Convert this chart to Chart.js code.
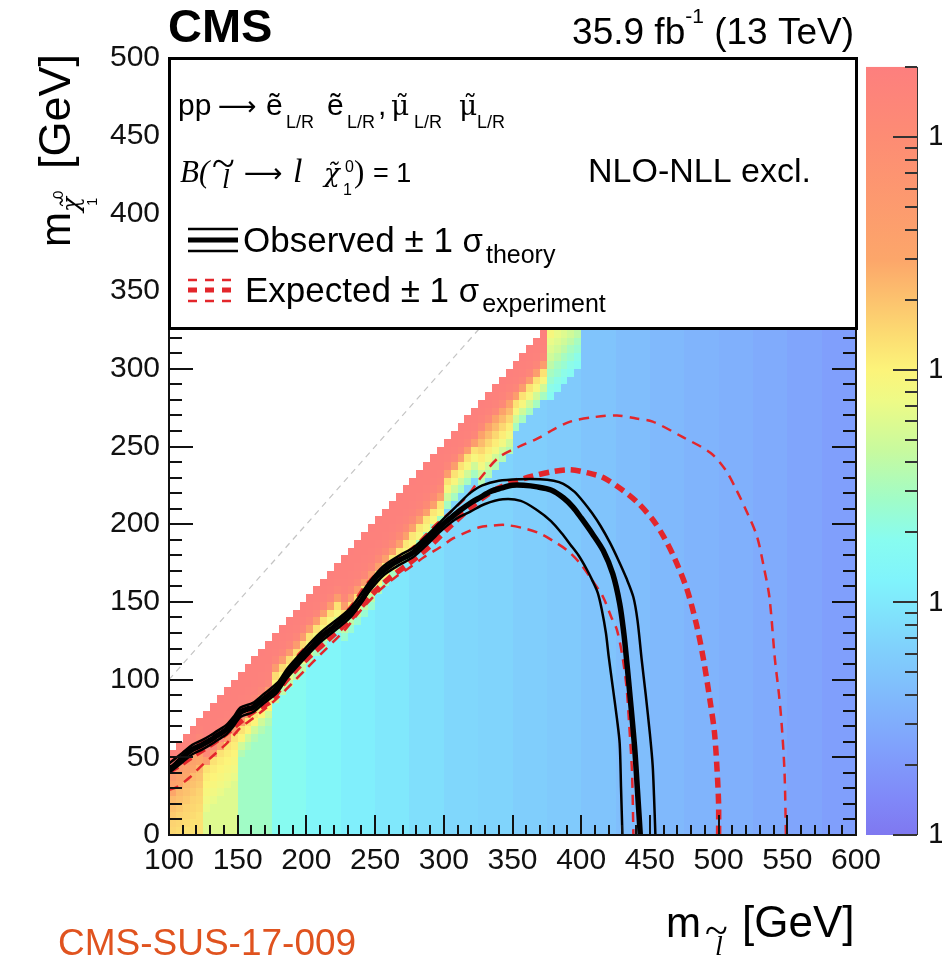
<!DOCTYPE html>
<html>
<head>
<meta charset="utf-8">
<script src="https://cdn.jsdelivr.net/npm/chart.js@4.4.1/dist/chart.umd.min.js"></script>
<style>
  html, body { margin: 0; padding: 0; background: #fff; overflow: hidden; }
  canvas { display: block; }
</style>
</head>
<body>
<canvas id="limitChart" width="942" height="957"></canvas>
<script>
// ======================
// DATA (GeV / pb)
// ======================

// heat map: 25 GeV columns of m(slepton), value = 95% CL upper limit on sigma [pb]
const colStart = [100,125,150,175,200,225,250,275,300,325,350,375,400,425,450,475,500,525,550,575];
const colBaseLimit = [0.13,0.06,0.028,0.018,0.0138,0.0114,0.0099,0.0084,0.0072,0.0067,0.006,0.0055,0.0049,0.0043,0.0039,0.0035,0.0032,0.0029,0.0026,0.0023];

// cells near the diagonal, 5 GeV rows going down from the grid edge
const diagBands = [
  [1.8,1.6,1.3,0.5,0.35,0.3,0.22,0.2,0.18,0.16,0.15,0.14,0.13],
  [1.9,1.8,1.8,1.7,1.5,1.2,0.45,0.13,0.11,0.1,0.09,0.08,0.07],
  [1.9,1.8,1.8,1.7,1.6,1.3,0.45,0.13,0.1,0.05,0.035],
  [1.9,1.8,1.7,1.4,0.5,0.14,0.1,0.07,0.04],
  [1.9,1.8,1.7,1.4,0.45,0.13,0.09,0.05,0.03],
  [1.9,1.8,1.8,1.7,1.6,1.3,0.45,0.13,0.09,0.04,0.025],
  [1.9,1.8,1.8,1.7,1.5,1.1,0.4,0.12,0.09,0.03],
  [1.9,1.8,1.8,1.7,1.5,1.1,0.4,0.12,0.09,0.03],
  [1.9,1.8,1.7,1.4,0.45,0.13,0.09,0.05,0.03],
  [1.9,1.8,1.6,1.2,0.35,0.22,0.15,0.11,0.08,0.05,0.035],
  [1.9,1.8,1.7,1.4,0.45,0.13,0.09,0.05,0.03],
  [0.15,0.09,0.07,0.06,0.05,0.04,0.03,0.025,0.02,0.018]
];

const CELL = 5;      // GeV, grid cell
const DM_MIN = 45;   // grid ends at m(slepton) - m(chi) = 45 GeV

// exclusion contours [m(slepton), m(chi)]
const obsCentral = [[100,43],[103,44],[110,50],[117,55],[124,58],[130,61],[137,65],[142,68],[147,73],[152,79],[157,81],[161,82],[168,87],[174,91],[179,95],[186,104],[192,110],[197,115],[204,121],[210,127],[220,134],[232,143],[240,151],[246,160],[251,166],[256,170],[262,174],[268,177],[278,182],[288,190],[297,198],[305,204],[312,209],[320,214],[326,217],[334,221],[341,223],[350,225],[358,225],[368,224],[378,222],[387,217],[394,211],[400,204],[408,194],[416,183],[423,168],[428,149],[431,130],[433,113],[436,85],[439,55],[441,28],[443,0]];
const obsUp = [[100,46],[110,53],[117,58],[124,61],[130,64],[137,68],[142,71],[147,76],[152,82],[161,85],[168,90],[179,98],[186,107],[197,118],[210,130],[232,146],[246,163],[256,173],[268,180],[278,185],[288,193],[297,201],[305,208],[312,214],[319,220],[328,225],[340,228],[355,229],[370,229],[380,228],[387,226],[395,221],[402,214],[408,207],[414,199],[421,188],[427,177],[433,165],[438,153],[441,138],[444,113],[447,90],[450,65],[452,45],[453,25],[454,0]];
const obsDown = [[100,40],[110,47],[117,52],[124,55],[130,58],[137,62],[142,65],[147,70],[152,76],[161,79],[168,84],[179,92],[186,101],[197,112],[210,124],[232,140],[246,157],[256,167],[268,174],[278,179],[288,187],[297,195],[305,201],[312,205],[319,208],[330,213],[343,216],[356,215],[368,209],[378,202],[386,194],[392,187],[398,180],[404,171],[408,164],[412,156],[415,145],[418,130],[420,115],[423,95],[426,75],[428,59],[429,30],[430,0]];
const expCentral = [[100,41],[108,45],[116,50],[125,55],[135,61],[144,67],[152,73],[159,78],[166,82],[174,86],[183,97],[192,106],[200,113],[215,125],[232,139],[248,155],[260,165],[275,175],[290,186],[305,199],[320,211],[335,221],[350,227],[365,231],[380,234],[392,235],[405,233],[416,230],[430,222],[441,214],[452,203],[460,192],[468,178],[477,158],[484,135],[489,113],[494,85],[497,66],[499,40],[500,20],[500,0]];
const expUp = [[100,46],[110,53],[118,57],[130,63],[143,70],[152,80],[162,85],[169,90],[180,98],[187,107],[195,117],[205,125],[219,134],[232,147],[244,162],[256,172],[268,179],[280,187],[292,198],[305,208],[317,218],[327,230],[340,243],[355,250],[368,255],[380,261],[392,266],[410,269],[426,270],[440,268],[452,266],[474,256],[494,246],[505,235],[513,222],[521,207],[528,192],[533,172],[537,153],[541,113],[544,90],[546,70],[548,40],[549,0]];
const expDown = [[100,29],[106,31],[115,37],[123,44],[132,51],[142,59],[152,69],[161,75],[171,82],[180,89],[190,98],[200,107],[210,116],[227,131],[240,145],[254,158],[265,166],[275,172],[286,179],[297,185],[307,191],[317,195],[326,198],[334,199],[345,199.5],[360,197],[370,194],[380,189],[390,183],[399,175],[408,164],[416,153],[422,140],[426,132],[430,115],[433,95],[435,70],[437,40],[438,0]];
const diagonal = [[100,100],[500,500]];

// axes
const X_MIN = 100, X_MAX = 600, Y_MIN = 0, Y_MAX = 500, TICK_STEP = 50;
const Z_MIN = 0.001, Z_TOP = 2, Z_MAX = 2.185;
const zLabels = { '1': '1', '0.1': '10\u207B\u00B9', '0.01': '10\u207B\u00B2', '0.001': '10\u207B\u00B3' };

// ======================
// STYLE
// ======================

const SANS = '"Liberation Sans", Arial, Helvetica, sans-serif';
const SERIF = '"Liberation Serif", "Times New Roman", serif';
const GREEK = '"DejaVu Serif", serif';
const ARROW = '"DejaVu Sans", sans-serif';
const RED = '#e3262b';

const paletteStops = [
  [0, '#7f78f0'], [0.046, '#8088f8'], [0.111, '#80a0fc'], [0.176, '#80b8fc'],
  [0.241, '#80d0fc'], [0.302, '#80e8fc'], [0.332, '#80f4fc'], [0.384, '#88fcf0'],
  [0.436, '#a0fcc8'], [0.501, '#c8fa9e'], [0.566, '#eefa86'], [0.605, '#fcf47a'],
  [0.651, '#fcdc72'], [0.697, '#fcc26e'], [0.749, '#fca66a'], [0.909, '#fd8c74'],
  [1, '#fd7f7e']
];

// ======================
// HELPERS
// ======================

function hexRgb(h) {
  return [parseInt(h.slice(1, 3), 16), parseInt(h.slice(3, 5), 16), parseInt(h.slice(5, 7), 16)];
}

function paletteAt(f) {
  f = Math.max(0, Math.min(1, f));
  for (let i = 1; i < paletteStops.length; i++) {
    const [t1, c1] = paletteStops[i];
    if (f <= t1) {
      const [t0, c0] = paletteStops[i - 1];
      const u = (f - t0) / (t1 - t0);
      const a = hexRgb(c0), b = hexRgb(c1);
      return 'rgb(' + a.map((v, k) => Math.round(v + (b[k] - v) * u)).join(',') + ')';
    }
  }
  return paletteStops[paletteStops.length - 1][1];
}

function text(ctx, t, x, y, font, align) {
  ctx.font = font;
  ctx.textAlign = align || 'left';
  ctx.fillText(t, x, y);
  return x + ctx.measureText(t).width;
}

// italic l with a wide tilde on top (slepton)
function tildeL(ctx, x, base, size) {
  text(ctx, '~', x, base - size * 0.38, `${Math.round(size * 1.5)}px ${SERIF}`);
  text(ctx, 'l', x + size * 0.36, base, `italic ${size}px ${SERIF}`);
}

function line(ctx, x0, y0, x1, y1) {
  ctx.beginPath();
  ctx.moveTo(x0, y0);
  ctx.lineTo(x1, y1);
  ctx.stroke();
}

const pts = arr => arr.map(([x, y]) => ({ x, y }));

// ======================
// PLUGINS
// ======================

const heatmapPlugin = {
  id: 'heatmap',
  beforeDatasetsDraw(chart) {
    const { ctx, chartArea: a, scales: { x, y, z } } = chart;
    const zb = z.getPixelForValue(Z_MIN), zt = z.getPixelForValue(Z_TOP);
    const colour = v => paletteAt((zb - z.getPixelForValue(v)) / (zb - zt));
    ctx.save();
    ctx.beginPath();
    ctx.rect(a.left, a.top, a.width, a.height);
    ctx.clip();
    colStart.forEach((c0, c) => {
      const band = diagBands[c] || [];
      for (let X = c0; X < c0 + 25; X += CELL) {
        const top = Math.min(X - DM_MIN, Y_MAX);
        const px0 = Math.round(x.getPixelForValue(X));
        const px1 = Math.round(x.getPixelForValue(X + CELL));
        for (let yl = 0; yl + CELL <= top; yl += CELL) {
          const k = (top - yl) / CELL - 1;
          const v = k < band.length ? band[k] : colBaseLimit[c];
          const py0 = Math.round(y.getPixelForValue(yl + CELL));
          const py1 = Math.round(y.getPixelForValue(yl));
          ctx.fillStyle = colour(v);
          ctx.fillRect(px0, py0, px1 - px0, py1 - py0);
        }
      }
    });
    ctx.restore();
  }
};

const framePlugin = {
  id: 'frame',
  afterDatasetsDraw(chart) {
    const { ctx, chartArea: a, scales: { x, y } } = chart;
    ctx.save();
    ctx.strokeStyle = '#111';
    ctx.lineWidth = 2;
    for (let v = X_MIN; v <= X_MAX; v += 10) {
      const px = Math.round(x.getPixelForValue(v));
      line(ctx, px, a.bottom, px, a.bottom - (v % TICK_STEP === 0 ? 20 : 10));
    }
    for (let v = Y_MIN; v <= Y_MAX; v += 10) {
      const py = Math.round(y.getPixelForValue(v));
      const len = v % TICK_STEP === 0 ? 24 : 13;
      line(ctx, a.left, py, a.left + len, py);
      line(ctx, a.right, py, a.right - len, py);
    }
    line(ctx, a.left, a.top, a.left, a.bottom + 1);
    line(ctx, a.left - 1, a.bottom, a.right + 1, a.bottom);
    line(ctx, a.right, a.top, a.right, a.bottom + 1);

    // legend box
    const boxBottom = a.top + 270;
    ctx.fillStyle = '#fff';
    ctx.fillRect(a.left, a.top, a.width, boxBottom - a.top);
    ctx.lineWidth = 3;
    ctx.strokeStyle = '#000';
    ctx.strokeRect(a.left + 0.5, a.top + 0.5, a.width, boxBottom - a.top);

    ctx.fillStyle = '#000';
    ctx.textBaseline = 'alphabetic';
    // process line
    text(ctx, 'pp', 178, 115, `30px ${SANS}`);
    text(ctx, '\u27F6', 218, 115, `27px ${ARROW}`);
    text(ctx, '\u1EBD', 266, 115, `30px ${SANS}`);
    text(ctx, 'L/R', 286, 128, `18px ${SANS}`);
    text(ctx, '\u1EBD', 327, 115, `30px ${SANS}`);
    text(ctx, 'L/R', 347, 128, `18px ${SANS}`);
    text(ctx, ',', 378, 115, `30px ${SANS}`);
    text(ctx, '\u03BC\u0303', 391, 115, `28px ${GREEK}`);
    text(ctx, 'L/R', 414, 128, `18px ${SANS}`);
    text(ctx, '\u03BC\u0303', 459, 115, `28px ${GREEK}`);
    text(ctx, 'L/R', 477, 128, `18px ${SANS}`);
    // branching fraction
    text(ctx, 'B(', 180, 182, `italic 31px ${SERIF}`);
    tildeL(ctx, 212, 188, 28);
    text(ctx, '\u27F6', 244, 182, `27px ${ARROW}`);
    text(ctx, 'l', 293, 182, `italic 34px ${SERIF}`);
    text(ctx, '\u03C7\u0303', 324, 182, `italic 26px ${GREEK}`);
    text(ctx, '0', 345, 172, `16px ${SANS}`);
    text(ctx, '1', 343, 195, `16px ${SANS}`);
    text(ctx, ')', 354, 182, `31px ${SERIF}`);
    text(ctx, '= 1', 373, 182, `27px ${SANS}`);
    text(ctx, 'NLO-NLL excl.', 588, 182, `34px ${SANS}`);

    // legend entries
    ctx.strokeStyle = '#000';
    ctx.setLineDash([]);
    ctx.lineWidth = 2.5; line(ctx, 188, 229, 238, 229); line(ctx, 188, 251, 238, 251);
    ctx.lineWidth = 5; line(ctx, 188, 240, 238, 240);
    let ex = text(ctx, 'Observed \u00B1 1 ', 243, 252, `35px ${SANS}`);
    ex = text(ctx, '\u03C3', ex, 252, `33px ${SANS}`);
    text(ctx, 'theory', ex + 3, 263, `25px ${SANS}`);

    ctx.strokeStyle = RED;
    ctx.setLineDash([9, 8]);
    ctx.lineWidth = 2.5; line(ctx, 188, 280, 238, 280); line(ctx, 188, 301, 238, 301);
    ctx.lineWidth = 5; line(ctx, 188, 290, 238, 290);
    ctx.setLineDash([]);
    ex = text(ctx, 'Expected \u00B1 1 ', 245, 302, `35px ${SANS}`);
    ex = text(ctx, '\u03C3', ex, 302, `33px ${SANS}`);
    text(ctx, 'experiment', ex + 3, 312, `25px ${SANS}`);
    ctx.restore();
  },
  afterDraw(chart) {
    const { ctx, scales: { z } } = chart;
    ctx.save();
    // colour bar
    const cbL = z.left + 10, cbR = z.left + 61;
    const zb = z.getPixelForValue(Z_MIN), zt = z.getPixelForValue(Z_TOP);
    const g = ctx.createLinearGradient(0, zb, 0, zt);
    paletteStops.forEach(([t, c]) => g.addColorStop(t, c));
    ctx.fillStyle = g;
    ctx.fillRect(cbL, zt, cbR - cbL, zb - zt);
    ctx.strokeStyle = '#333';
    ctx.lineWidth = 1;
    line(ctx, cbR + 0.5, zt, cbR + 0.5, zb);
    ctx.lineWidth = 2;
    z.ticks.forEach(tk => {
      const v = tk.value;
      if (v > Z_TOP + 1e-9) return;
      const e = Math.floor(Math.log10(v) + 1e-9);
      const m = v / Math.pow(10, e);
      if (Math.abs(m - Math.round(m)) > 1e-6) return;
      const py = Math.round(z.getPixelForValue(v));
      line(ctx, cbR - (Math.round(m) === 1 ? 24 : 12), py, cbR, py);
    });

    // header
    ctx.fillStyle = '#000';
    text(ctx, 'CMS', 168, 42, `bold 47px ${SANS}`);
    ctx.font = `37px ${SANS}`;
    const w1 = ctx.measureText('35.9 fb').width;
    const w3 = ctx.measureText(' (13 TeV)').width;
    ctx.font = `21px ${SANS}`;
    const w2 = ctx.measureText('-1').width;
    let hx = 854 - w1 - w2 - w3;
    hx = text(ctx, '35.9 fb', hx, 44, `37px ${SANS}`);
    hx = text(ctx, '-1', hx, 23, `21px ${SANS}`);
    text(ctx, ' (13 TeV)', hx, 44, `37px ${SANS}`);

    // y title
    ctx.save();
    ctx.translate(70, 247);
    ctx.rotate(-Math.PI / 2);
    text(ctx, 'm', 0, 0, `42px ${SANS}`);
    text(ctx, '\u03C7\u0303', 35, 9, `italic 25px ${GREEK}`);
    text(ctx, '0', 48, -7, `15px ${SANS}`);
    text(ctx, '1', 41, 27, `15px ${SANS}`);
    text(ctx, '[GeV]', 78, 0, `45px ${SANS}`);
    ctx.restore();

    // x title
    text(ctx, 'm', 666, 937, `42px ${SANS}`);
    tildeL(ctx, 705, 955, 28);
    text(ctx, '[GeV]', 742, 937, `44px ${SANS}`);

    ctx.fillStyle = '#e0531f';
    text(ctx, 'CMS-SUS-17-009', 58, 955, `37px ${SANS}`);
    ctx.restore();
  }
};

// ======================
// CHART
// ======================

const lineDefaults = { showLine: true, pointRadius: 0, tension: 0.3, fill: false };

new Chart(document.getElementById('limitChart'), {
  type: 'scatter',
  data: {
    datasets: [
      { ...lineDefaults, label: 'Observed', data: pts(obsCentral), borderColor: '#000', borderWidth: 5.5, order: 0 },
      { ...lineDefaults, label: 'Observed +1 sigma', data: pts(obsUp), borderColor: '#000', borderWidth: 2.5, order: 1 },
      { ...lineDefaults, label: 'Observed -1 sigma', data: pts(obsDown), borderColor: '#000', borderWidth: 2.5, order: 1 },
      { ...lineDefaults, label: 'Expected', data: pts(expCentral), borderColor: RED, borderWidth: 5.5, borderDash: [10, 6], order: 2 },
      { ...lineDefaults, label: 'Expected +1 sigma', data: pts(expUp), borderColor: RED, borderWidth: 2.5, borderDash: [10, 7], order: 3 },
      { ...lineDefaults, label: 'Expected -1 sigma', data: pts(expDown), borderColor: RED, borderWidth: 2.5, borderDash: [10, 7], order: 3 },
      { ...lineDefaults, label: 'diagonal', data: pts(diagonal), borderColor: '#c4c4c4', borderWidth: 1.2, borderDash: [6, 5], tension: 0, order: 4 }
    ]
  },
  options: {
    responsive: false,
    animation: false,
    devicePixelRatio: 1,
    layout: { padding: { top: 58, left: 0, right: 0, bottom: 0 } },
    plugins: { legend: { display: false }, tooltip: { enabled: false } },
    scales: {
      x: {
        type: 'linear', min: X_MIN, max: X_MAX,
        afterFit: s => { s.height = 122; s.paddingLeft = 0; s.paddingRight = 0; },
        grid: { display: false, drawTicks: false }, border: { display: false },
        ticks: { stepSize: TICK_STEP, padding: 8, maxRotation: 0, autoSkip: false, color: '#111', font: { family: SANS, size: 30 } }
      },
      y: {
        type: 'linear', min: Y_MIN, max: Y_MAX,
        afterFit: s => { s.width = 169; s.paddingTop = 0; s.paddingBottom = 0; },
        grid: { display: false, drawTicks: false }, border: { display: false },
        ticks: { stepSize: TICK_STEP, padding: 9, color: '#111', font: { family: SANS, size: 30 } }
      },
      z: {
        type: 'logarithmic', position: 'right', min: Z_MIN, max: Z_MAX,
        afterFit: s => { s.width = 86; s.paddingTop = 0; s.paddingBottom = 0; },
        grid: { display: false, drawTicks: false }, border: { display: false },
        ticks: {
          autoSkip: false, padding: 72, color: '#111', font: { family: SANS, size: 30 },
          callback: v => zLabels[String(+v.toPrecision(6))] || ''
        }
      }
    }
  },
  plugins: [heatmapPlugin, framePlugin]
});
</script>
</body>
</html>
